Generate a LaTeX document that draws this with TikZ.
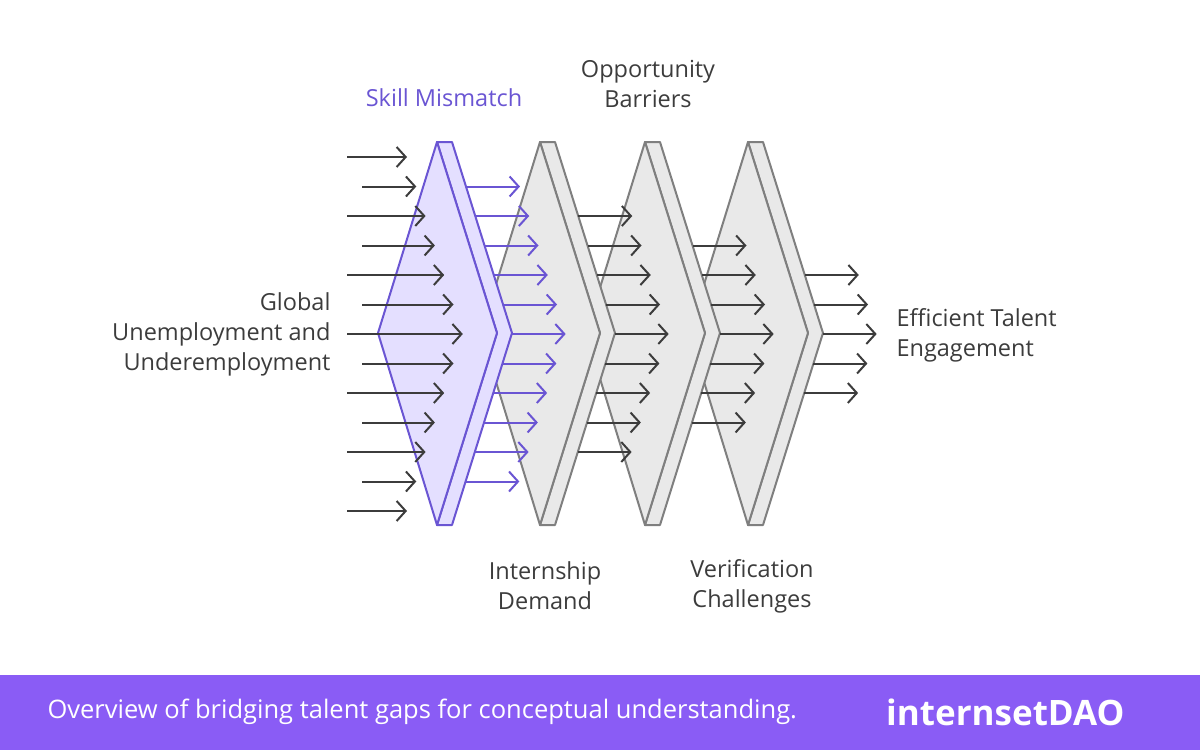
\documentclass[tikz,border=0pt]{standalone}
\usepackage{fontspec}
\setmainfont{Open Sans}
\usetikzlibrary{arrows.meta, positioning}
\definecolor{violetline}{HTML}{6A55D3}
\definecolor{violetfill}{HTML}{E4DFFF}
\definecolor{greyline}{HTML}{7F7F7F}
\definecolor{greyfill}{HTML}{E9E9E9}
\definecolor{darkline}{HTML}{3C3C3C}
\definecolor{bandcolor}{HTML}{8A5CF5}
\tikzstyle{flow} = [line width=2, -{Straight Barb[length=9,width=20,line width=2]}]
\tikzstyle{label} = [font=\fontsize{23.5}{30}\selectfont, text=darkline, align=center]
\tikzstyle{plate} = [line width=2, line join=round]
\begin{document}
\begin{tikzpicture}[x=1pt, y=-1pt]
		\useasboundingbox (0,0) rectangle (1200,750);
		% filters, back to front
		\foreach \px/\lc/\fc in {748/greyline/greyfill, 645/greyline/greyfill, 540/greyline/greyfill, 437/violetline/violetfill} {
			\draw [plate, draw=\lc, fill=\fc] (\px,142) -- (\px+15,142) -- (\px+75,333) -- (\px+15,525) -- (\px,525) -- (\px+60,333) -- cycle;
			\draw [plate, draw=\lc, fill=\fc] (\px,142) -- (\px-59,333) -- (\px,525) -- (\px+60,333) -- cycle;
		}
		% incoming arrows
		\foreach \i in {0,...,12} {
			\pgfmathsetmacro{\ry}{157+29.5*\i}
			\pgfmathsetmacro{\rs}{isodd(\i) ? 362 : 347}
			\pgfmathsetmacro{\rt}{407+9.3*(6-abs(\i-6))}
			\coordinate (InA\i) at (\rs,\ry);
			\coordinate (InB\i) at (\rt,\ry);
			\draw [flow, darkline] (InA\i) -- (InB\i);
		}
		% arrows leaving each filter
		\foreach \px/\first/\last/\cl in {437/1/11/violetline, 540/2/10/darkline, 645/3/9/darkline, 748/4/8/darkline} {
			\foreach \i in {\first,...,\last} {
				\pgfmathsetmacro{\ry}{157+29.5*\i}
				\pgfmathsetmacro{\rs}{\px+15+60*(1-abs(\ry-333)/191)}
				\coordinate (OutA) at (\rs,\ry);
				\coordinate (OutB) at (\rs+54,\ry);
				\draw [flow, \cl] (OutA) -- (OutB);
			}
		}
		\node (Skill) [label, text=violetline] at (444,98) {Skill Mismatch};
		\node (Barriers) [label] at (648,84) {Opportunity\\Barriers};
		\node (Internship) [label] at (545,586) {Internship\\Demand};
		\node (Verification) [label] at (752,586) {Verification\\Challenges};
		\node (Global) [label, align=right, anchor=east] at (334,334) {Global\\Unemployment and\\Underemployment};
		\node (Efficient) [label, align=left, anchor=west] at (893,335) {Efficient Talent\\Engagement};
		% footer band
		\fill [bandcolor] (0,675) rectangle (1200,750);
		\node (Caption) [anchor=west, text=white, font=\fontsize{25.5}{30}\selectfont] at (44,712) {Overview of bridging talent gaps for conceptual understanding.};
		\node (Logo) [anchor=east, text=white, font=\fontsize{35}{40}\selectfont\bfseries] at (1128,712) {internsetDAO};
\end{tikzpicture}
\end{document}
